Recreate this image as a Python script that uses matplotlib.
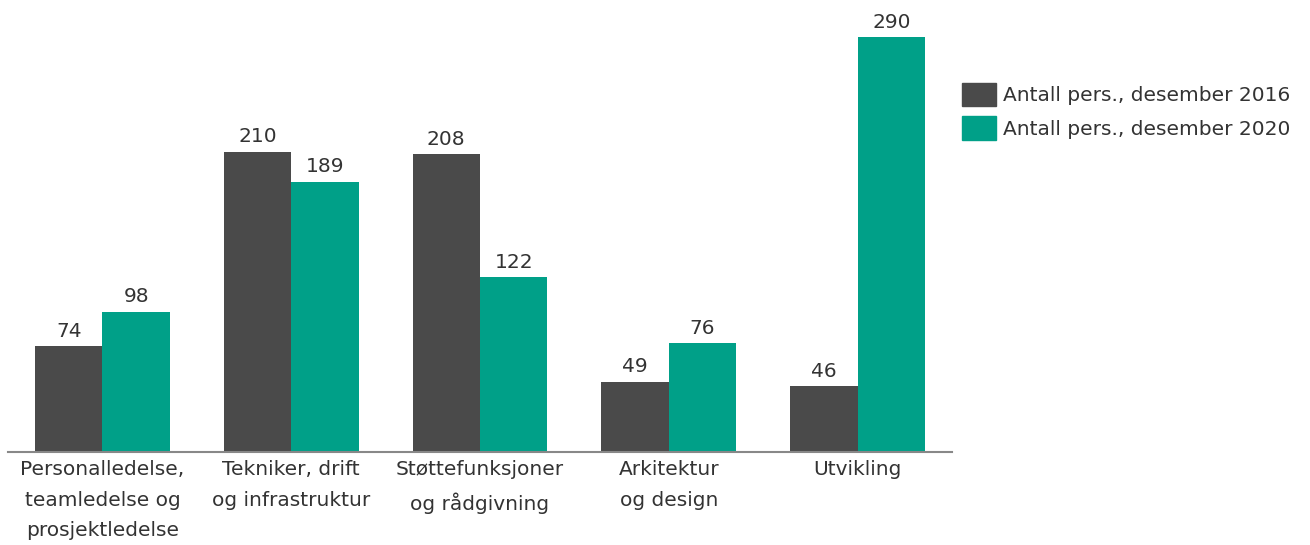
import numpy as np
import matplotlib.pyplot as plt
from matplotlib.patches import Patch

categories = ["Personalledelse,\nteamledelse og\nprosjektledelse",
              "Tekniker, drift\nog infrastruktur",
              "Støttefunksjoner\nog rådgivning",
              "Arkitektur\nog design",
              "Utvikling"]
values_2016 = [74, 210, 208, 49, 46]
values_2020 = [98, 189, 122, 76, 290]
series_names = ["Antall pers., desember 2016", "Antall pers., desember 2020"]

dark = "#4a4a4a"
teal = "#00a088"
text_color = "#333333"
fs = 14.5

fig = plt.figure(figsize=(13.1, 5.45), dpi=100)
ax = fig.add_axes([8 / 1310, 93 / 545, 944 / 1310, 452 / 545])

x = np.arange(len(categories))
w = 0.357
b1 = ax.bar(x - w / 2, values_2016, w, color=dark)
b2 = ax.bar(x + w / 2, values_2020, w, color=teal)

for bars in (b1, b2):
    for rect in bars:
        h = rect.get_height()
        ax.annotate(f"{h:.0f}", (rect.get_x() + rect.get_width() / 2, h),
                    xytext=(0, 4), textcoords="offset points",
                    ha="center", va="bottom", fontsize=fs, color=text_color)

ax.set_xlim(-0.5, len(categories) - 0.5)
ax.set_ylim(0, 316)
ax.set_xticks(x)
ax.set_xticklabels(categories, fontsize=fs, color=text_color, linespacing=1.75)
ax.tick_params(axis="x", length=0, pad=6)
ax.set_yticks([])
for side in ("top", "right", "left"):
    ax.spines[side].set_visible(False)
ax.spines["bottom"].set_color("#888888")
ax.spines["bottom"].set_linewidth(1.5)

handles = [Patch(color=dark), Patch(color=teal)]
leg = fig.legend(handles, series_names, loc="upper left",
                 bbox_to_anchor=(962 / 1310, 1 - 83 / 545),
                 bbox_transform=fig.transFigure, frameon=False,
                 fontsize=fs, borderpad=0, borderaxespad=0,
                 handlelength=1.7, handleheight=1.4, handletextpad=0.35,
                 labelspacing=0.5)
for t in leg.get_texts():
    t.set_color(text_color)

fig.savefig("out.png", dpi=100)
